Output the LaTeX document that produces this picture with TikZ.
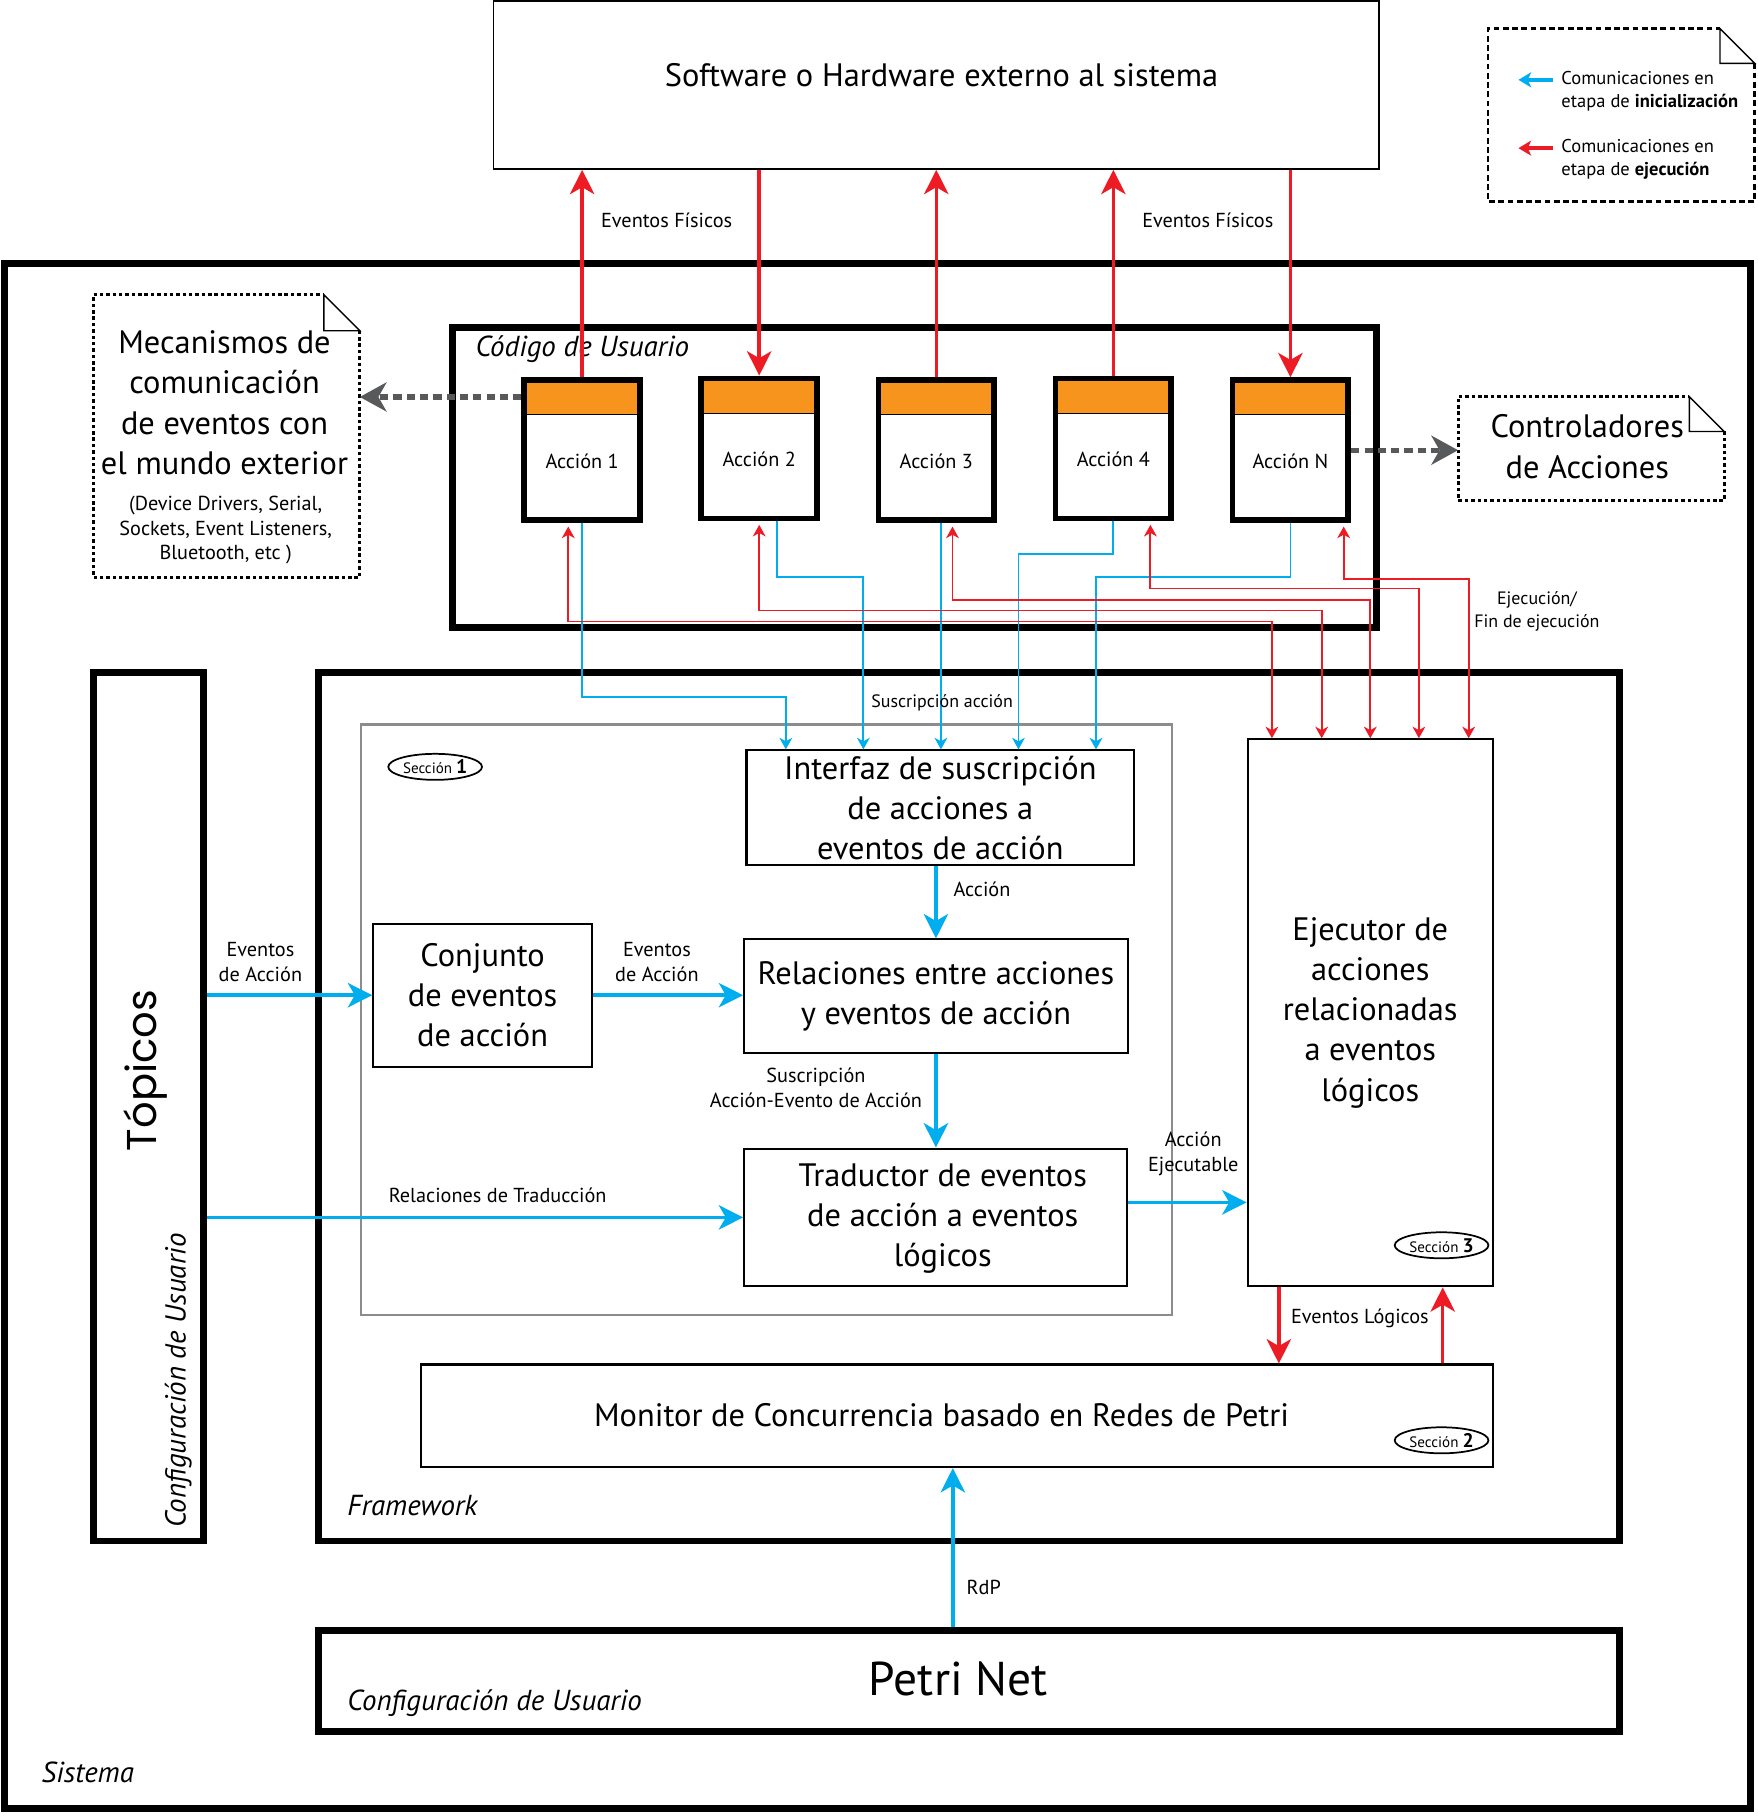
\documentclass[tikz,border=0pt]{standalone}
\usepackage{fontspec}
\setmainfont{PT Sans}
\newfontfamily\geofont{Poppins}
\usetikzlibrary{arrows.meta, positioning, shapes.geometric}
\definecolor{cyanA}{HTML}{00AEEF}
\definecolor{redA}{HTML}{ED1C24}
\definecolor{orangeA}{HTML}{F7941D}
\definecolor{grayA}{HTML}{58595B}
\definecolor{secgray}{HTML}{8A8C8E}
\newcommand{\bigtxt}{\fontsize{28}{34.7}\selectfont}
\newcommand{\hugetxt}{\fontsize{41}{45}\selectfont}
\newcommand{\lbltxt}{\fontsize{17.5}{21.5}\selectfont}
\newcommand{\legtxt}{\fontsize{16}{20}\selectfont}
\newcommand{\smltxt}{\fontsize{15.5}{20}\selectfont}
\newcommand{\itltxt}{\fontsize{25}{28}\selectfont\itshape}
\newcommand{\sectxt}{\fontsize{13}{14}\selectfont}
\newcommand{\secnum}{\fontsize{17}{17}\selectfont\bfseries}

\begin{document}
\begin{tikzpicture}[x=1pt, y=-1pt,
    box/.style={draw, rectangle, line width=1.8pt, inner sep=0pt, align=center, font=\bigtxt},
    heavy/.style={draw, rectangle, line width=6pt, inner sep=0pt},
    act/.style={draw, rectangle, fill=white, line width=5pt, minimum width=100pt, minimum height=121pt, inner sep=0pt,
      font=\lbltxt, text height=31pt, text depth=0pt,
      path picture={\fill[orangeA] ([xshift=2.5pt,yshift=-2.5pt]path picture bounding box.north west) rectangle ([xshift=-2.5pt,yshift=-30pt]path picture bounding box.north east);
        \draw[line width=1pt] ([yshift=-30pt]path picture bounding box.north west) -- ([yshift=-30pt]path picture bounding box.north east);}},
    notebox/.style={rectangle, inner sep=0pt},
    noteline/.style={line width=2.5pt, dash pattern=on 3pt off 2.5pt},
    legline/.style={line width=2.3pt, dash pattern=on 5pt off 3pt},
    fold/.style={line width=1.2pt, line join=miter},
    txt/.style={inner sep=0pt, align=center, font=\bigtxt},
    lbl/.style={inner sep=0pt, align=center, font=\lbltxt},
    itl/.style={inner sep=0pt, font=\itltxt},
    sec/.style={draw, ellipse, line width=1.5pt, minimum width=81pt, minimum height=22.5pt, inner sep=0pt, font=\sectxt},
    bluearr/.style={draw=cyanA, line width=3.2pt, -{Stealth[length=21pt, width=21pt, inset=6pt]}},
    redarr/.style={draw=redA, line width=3pt, -{Stealth[length=21pt, width=21pt, inset=6pt]}},
    grayarr/.style={draw=grayA, line width=4.6pt, dash pattern=on 7pt off 4.5pt, -{Stealth[length=23pt, width=25pt, inset=7pt]}},
    wireb/.style={draw=cyanA, line width=1.6pt, -{Stealth[length=10pt, width=11pt, inset=3pt]}},
    wirer/.style={draw=redA, line width=1.6pt, {Stealth[length=10pt, width=11pt, inset=3pt]}-{Stealth[length=10pt, width=11pt, inset=3pt]}}]

\useasboundingbox (0,0) rectangle (1519,1570);

% sistema
\node[heavy, minimum width=1509pt, minimum height=1335pt] (sis) at (758,895.5) {};
\node[itl, anchor=west] (sist) at (35.8,1531) {Sistema};

% externo
\node[draw, rectangle, line width=1.5pt, minimum width=765pt, minimum height=145pt] (ext) at (809,73.5) {};
\node[txt] (extt) at (813.6,65) {Software o Hardware externo al sistema};

% leyenda
\node[notebox, minimum width=230pt, minimum height=149pt] (leg) at (1401,99.5) {};
\draw[legline] ([yshift=-30pt]leg.north east) -- (leg.south east) -- (leg.south west) -- (leg.north west) -- ([xshift=-30pt]leg.north east);
\draw[fold] ([xshift=-30pt]leg.north east) -- ([xshift=-30pt,yshift=-30pt]leg.north east) -- ([yshift=-30pt]leg.north east) -- cycle;
\node[inner sep=0pt, align=left, anchor=west, font=\legtxt] (leg1) at (1349,79) {Comunicaciones en\\etapa de \textbf{inicialización}};
\node[inner sep=0pt, align=left, anchor=west, font=\legtxt] (leg2) at (1349,137.5) {Comunicaciones en\\etapa de \textbf{ejecución}};
\coordinate (lb) at (1342,69);
\coordinate (lr) at (1342,128);
\draw[draw=cyanA, line width=3pt, -{Stealth[length=11pt, width=13pt, inset=3pt]}] (lb) -- ++(-30,0);
\draw[draw=redA, line width=3pt, -{Stealth[length=11pt, width=13pt, inset=3pt]}] (lr) -- ++(-30,0);

% notas
\node[notebox, minimum width=230pt, minimum height=243.5pt] (mec) at (195.7,376.7) {};
\draw[noteline] ([yshift=-31pt]mec.north east) -- (mec.south east) -- (mec.south west) -- (mec.north west) -- ([xshift=-31pt]mec.north east);
\draw[fold] ([xshift=-31pt]mec.north east) -- ([xshift=-31pt,yshift=-31pt]mec.north east) -- ([yshift=-31pt]mec.north east) -- cycle;
\node[txt] (mect) at (194,348) {Mecanismos de\\comunicación\\de eventos con\\el mundo exterior};
\node[lbl] (mecs) at (195,458) {(Device Drivers, Serial,\\Sockets, Event Listeners,\\Bluetooth, etc )};

\node[notebox, minimum width=229.5pt, minimum height=89pt] (ctl) at (1374.8,387.5) {};
\draw[noteline] ([yshift=-30pt]ctl.north east) -- (ctl.south east) -- (ctl.south west) -- (ctl.north west) -- ([xshift=-30pt]ctl.north east);
\draw[fold] ([xshift=-30pt]ctl.north east) -- ([xshift=-30pt,yshift=-30pt]ctl.north east) -- ([yshift=-30pt]ctl.north east) -- cycle;
\node[txt] (ctlt) at (1371.5,386) {Controladores\\de Acciones};

% codigo de usuario
\node[heavy, minimum width=798pt, minimum height=259pt] (cod) at (790,412.5) {};
\node[itl, anchor=west] (codt) at (410.7,302) {Código de Usuario};
\node[act] (a1) at (503,389) {Acción 1};
\node[act] (a2) at (656,387.5) {Acción 2};
\node[act] (a3) at (809,389) {Acción 3};
\node[act] (a4) at (962,387.5) {Acción 4};
\node[act] (aN) at (1115,389) {Acción N};

% framework
\node[heavy, minimum width=95.5pt, minimum height=750.8pt] (top) at (128.2,956.1) {};
\node[rotate=90, inner sep=0pt, font={\geofont\fontsize{36}{36}\selectfont}] (topt) at (126,925) {Tópicos};
\node[rotate=90, itl] (topc) at (154,1193) {Configuración de Usuario};
\node[heavy, minimum width=1124.6pt, minimum height=750.8pt] (fw) at (837.3,956.1) {};
\node[itl, anchor=west] (fwt) at (300,1301) {Framework};
\node[draw=secgray, line width=1.8pt, minimum width=701pt, minimum height=510pt] (sec1) at (662.5,881) {};
\node[sec] (s1) at (376,662.6) {Sección {\secnum 1}};

\node[box, minimum width=335pt, minimum height=99pt] (int) at (812.5,697.9) {Interfaz de suscripción\\de acciones a\\eventos de acción};
\node[box, minimum width=331.4pt, minimum height=97.8pt] (rel) at (808.7,860.6) {Relaciones entre acciones\\y eventos de acción};
\node[box, minimum width=189pt, minimum height=123.7pt] (con) at (417,859.9) {Conjunto\\de eventos\\de acción};
\node[box, minimum width=331pt, minimum height=119pt] (tra) at (808.5,1051.9) {};
\node[txt] (trat) at (814.6,1053) {Traductor de eventos\\de acción a eventos\\lógicos};
\node[box, minimum width=212pt, minimum height=472.6pt] (eje) at (1184,875.1) {Ejecutor de\\acciones\\relacionadas\\a eventos\\lógicos};
\node[sec] (s3) at (1245.6,1076) {Sección {\secnum 3}};
\node[box, minimum width=926pt, minimum height=88.6pt] (mon) at (827,1223.3) {};
\node[txt] (mont) at (813.6,1223) {Monitor de Concurrencia basado en Redes de Petri};
\node[sec] (s2) at (1245.6,1244.5) {Sección {\secnum 2}};

% petri net
\node[heavy, minimum width=1124.6pt, minimum height=87pt] (pet) at (837.3,1452.5) {};
\node[inner sep=0pt, font=\hugetxt] (pett) at (828,1451) {Petri Net};
\node[itl, anchor=west] (petc) at (300,1472) {Configuración de Usuario};

% eventos fisicos
\draw[redarr] (a1.north) -- (a1.north |- ext.south);
\draw[redarr] (a2.north |- ext.south) -- (a2.north);
\draw[redarr] (a3.north) -- (a3.north |- ext.south);
\draw[redarr] (a4.north) -- (a4.north |- ext.south);
\draw[redarr] (aN.north |- ext.south) -- (aN.north);
\node[lbl] (ef1) at (576,190) {Eventos Físicos};
\node[lbl] (ef2) at (1043.6,190) {Eventos Físicos};

\coordinate (g1) at ([yshift=46pt]a1.west);
\draw[grayarr] (g1) -- (g1 -| mec.east);
\draw[grayarr] (aN.east) -- (aN.east -| ctl.west);

% suscripcion
\draw[wireb] (a1.south) -- ++(0,150.5) -| ([xshift=-133.5pt]int.north);
\draw[wireb] ([xshift=15pt]a2.south) -- ++(0,48) -| ([xshift=-66.5pt]int.north);
\draw[wireb] ([xshift=4pt]a3.south) -- ([xshift=0.5pt]int.north);
\draw[wireb] (a4.south) -- ++(0,28) -| ([xshift=67.5pt]int.north);
\draw[wireb] (aN.south) -- ++(0,46.5) -| ([xshift=134.5pt]int.north);
\node[inner sep=0pt, font=\smltxt] (sus) at (814,607) {Suscripción acción};

% ejecucion
\draw[wirer] ([xshift=-12pt,yshift=-3pt]a1.south) -- ++(0,82) -| ([xshift=-85pt]eje.north);
\draw[wirer] ([yshift=-3pt]a2.south) -- ++(0,74) -| ([xshift=-42pt]eje.north);
\draw[wirer] ([xshift=14pt,yshift=-3pt]a3.south) -- ++(0,63.5) -| (eje.north);
\draw[wirer] ([xshift=32pt,yshift=-3pt]a4.south) -- ++(0,55) -| ([xshift=42pt]eje.north);
\draw[wirer] ([xshift=46pt,yshift=-3pt]aN.south) -- ++(0,45) -| ([xshift=85pt]eje.north);
\node[inner sep=0pt, align=center, font=\smltxt] (ejf) at (1328,528) {Ejecución/\\Fin de ejecución};

% framework
\draw[bluearr] (con.west -| top.east) -- (con.west);
\node[lbl] (ea1) at (225,831) {Eventos\\de Acción};
\draw[bluearr] (con.east) -- (con.east -| rel.west);
\node[lbl] (ea2) at (567.6,831) {Eventos\\de Acción};
\draw[bluearr] (int.south -| rel.north) -- (rel.north);
\node[lbl] (acc) at (848.5,768) {Acción};
\draw[bluearr] (rel.south) -- (rel.south |- tra.north);
\node[lbl] (sae) at (705,940) {Suscripción\\Acción-Evento de Acción};
\draw[bluearr] (tra.west -| top.east) -- (tra.west);
\node[lbl] (rdt) at (430,1033) {Relaciones de Traducción};
\coordinate (te) at ([yshift=13pt]tra.east);
\draw[bluearr] (te) -- (te -| eje.west);
\node[lbl] (aej) at (1031,997) {Acción\\Ejecutable};

\coordinate (e1) at ([xshift=-79pt]eje.south);
\coordinate (e2) at ([xshift=62.6pt]eje.south);
\draw[redarr] (e1) -- (e1 |- mon.north);
\draw[redarr] (e2 |- mon.north) -- (e2);
\node[lbl] (elg) at (1175,1139) {Eventos Lógicos};

\coordinate (p1) at ([xshift=-14pt]pet.north);
\draw[bluearr] (p1) -- (p1 |- mon.south);
\node[lbl] (rdp) at (850,1372) {RdP};
\end{tikzpicture}
\end{document}
